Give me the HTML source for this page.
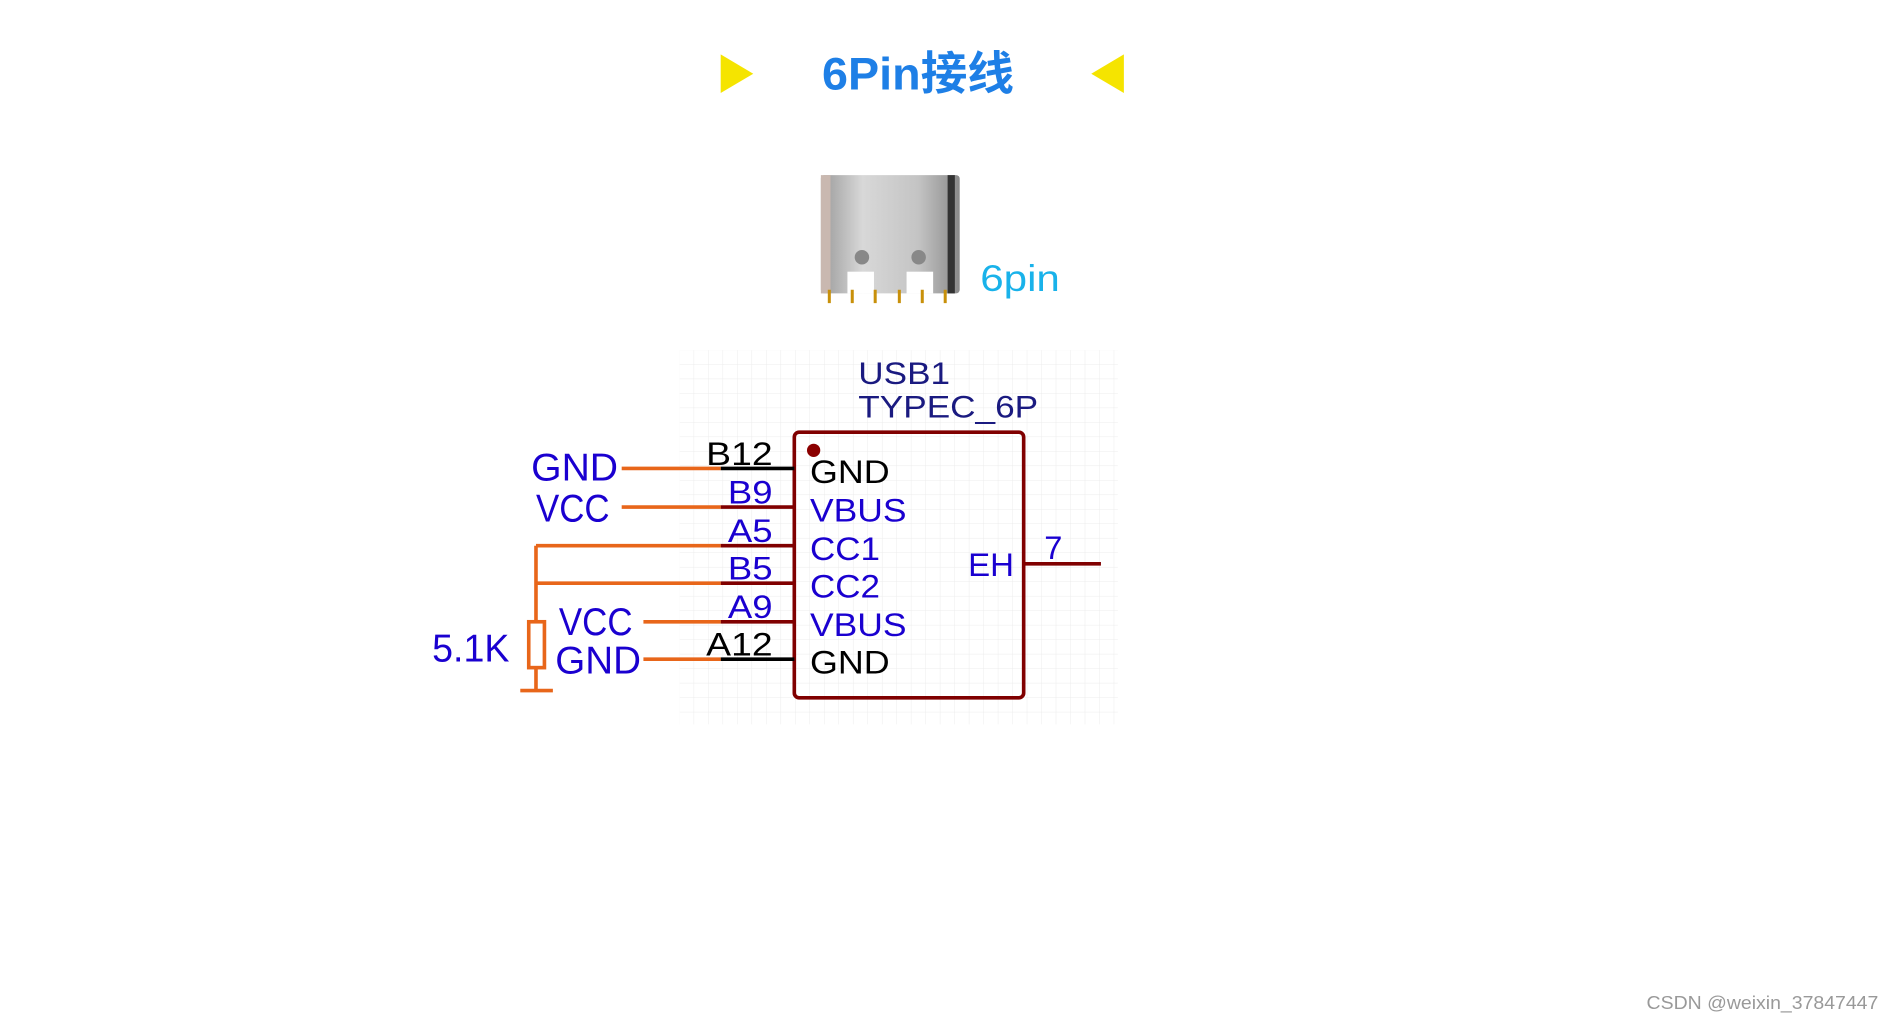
<!DOCTYPE html>
<html><head><meta charset="utf-8"><style>
html,body{margin:0;padding:0;background:#fff;}
svg{display:block}
text{font-family:"Liberation Sans","Noto Sans CJK SC",sans-serif;}
</style></head><body>
<svg width="1888" height="1019" viewBox="0 0 1564 844" xmlns="http://www.w3.org/2000/svg">
<defs>
<pattern id="g" width="12" height="12" patternUnits="userSpaceOnUse" x="563" y="290">
<path d="M12 0V12M0 12H12" stroke="#ececec" stroke-width="0.8" fill="none"/>
</pattern>
<linearGradient id="m" x1="0" x2="1">
<stop offset="0" stop-color="#9a9a9a"/><stop offset="0.3" stop-color="#d8d8d8"/><stop offset="0.7" stop-color="#c4c4c4"/><stop offset="1" stop-color="#8a8a8a"/>
</linearGradient>
</defs>
<polygon points="597,45 624,61 597,77" fill="#f5e400"/>
<polygon points="931,45 904,61 931,77" fill="#f5e400"/>
<text x="681" y="74" font-size="38" font-weight="bold" fill="#1e7fe6" textLength="159" lengthAdjust="spacingAndGlyphs">6Pin接线</text>
<rect x="680" y="145" width="115" height="98" rx="3" fill="url(#m)"/>
<rect x="680" y="145" width="8" height="98" fill="#c9b8b0"/>
<rect x="785" y="145" width="6" height="98" fill="#333"/>
<circle cx="714" cy="213" r="6" fill="#888"/><circle cx="761" cy="213" r="6" fill="#888"/>
<rect x="702" y="225" width="22" height="18" fill="#fff"/><rect x="751" y="225" width="22" height="18" fill="#fff"/>
<g stroke="#c8900a" stroke-width="2.5"><path d="M687 240V251M706 240V251M725 240V251M745 240V251M764 240V251M783 240V251"/></g>
<text x="812" y="241" font-size="31" fill="#19b2ea" textLength="66" lengthAdjust="spacingAndGlyphs">6pin</text>
<rect x="563" y="290" width="363" height="310" fill="url(#g)"/>
<text x="711" y="318" font-size="26" fill="#1a1a80" textLength="76" lengthAdjust="spacingAndGlyphs">USB1</text>
<text x="711" y="346" font-size="26" fill="#1a1a80" textLength="149" lengthAdjust="spacingAndGlyphs">TYPEC_6P</text>
<rect x="658" y="358" width="190" height="220" rx="4" fill="none" stroke="#800000" stroke-width="3"/>
<circle cx="674" cy="373" r="5.5" fill="#8b0000"/>
<g stroke-width="3">
<path d="M597 388H658M597 546H658" stroke="#000"/>
<path d="M597 420H658M597 452H658M597 483H658M597 515H658M848 467H912" stroke="#800000"/>
<path d="M515 388H597M515 420H597M444 452H597M444 483H597M533 515H597M533 546H597M444 452V515M444 553V572M431 572H458" stroke="#e8661a"/>
<rect x="438" y="515" width="13" height="38" fill="none" stroke="#e8661a" stroke-width="3"/>
</g>
<g font-size="27" lengthAdjust="spacingAndGlyphs">
<text x="585" y="385" fill="#000" textLength="55" lengthAdjust="spacingAndGlyphs">B12</text>
<text x="603" y="417" fill="#1a00d0" textLength="37" lengthAdjust="spacingAndGlyphs">B9</text>
<text x="603" y="449" fill="#1a00d0" textLength="37" lengthAdjust="spacingAndGlyphs">A5</text>
<text x="603" y="480" fill="#1a00d0" textLength="37" lengthAdjust="spacingAndGlyphs">B5</text>
<text x="603" y="512" fill="#1a00d0" textLength="37" lengthAdjust="spacingAndGlyphs">A9</text>
<text x="585" y="543" fill="#000" textLength="55" lengthAdjust="spacingAndGlyphs">A12</text>
<text x="671" y="400" fill="#000" textLength="66" lengthAdjust="spacingAndGlyphs">GND</text>
<text x="671" y="432" fill="#1a00d0" textLength="80" lengthAdjust="spacingAndGlyphs">VBUS</text>
<text x="671" y="464" fill="#1a00d0" textLength="58" lengthAdjust="spacingAndGlyphs">CC1</text>
<text x="671" y="495" fill="#1a00d0" textLength="58" lengthAdjust="spacingAndGlyphs">CC2</text>
<text x="671" y="527" fill="#1a00d0" textLength="80" lengthAdjust="spacingAndGlyphs">VBUS</text>
<text x="671" y="558" fill="#000" textLength="66" lengthAdjust="spacingAndGlyphs">GND</text>
<text x="802" y="477" fill="#1a00d0" textLength="38" lengthAdjust="spacingAndGlyphs">EH</text>
<text x="865" y="463" fill="#1a00d0">7</text>
</g>
<g font-size="32" fill="#1a00d0">
<text x="440" y="398" textLength="72" lengthAdjust="spacingAndGlyphs">GND</text>
<text x="444" y="432" textLength="61" lengthAdjust="spacingAndGlyphs">VCC</text>
<text x="463" y="526" textLength="61" lengthAdjust="spacingAndGlyphs">VCC</text>
<text x="460" y="558" textLength="71" lengthAdjust="spacingAndGlyphs">GND</text>
<text x="358" y="548" textLength="64" lengthAdjust="spacingAndGlyphs">5.1K</text>
</g>
<text x="1364" y="836" font-size="15" fill="#999" textLength="192" lengthAdjust="spacingAndGlyphs">CSDN @weixin_37847447</text>
</svg>
</body></html>
